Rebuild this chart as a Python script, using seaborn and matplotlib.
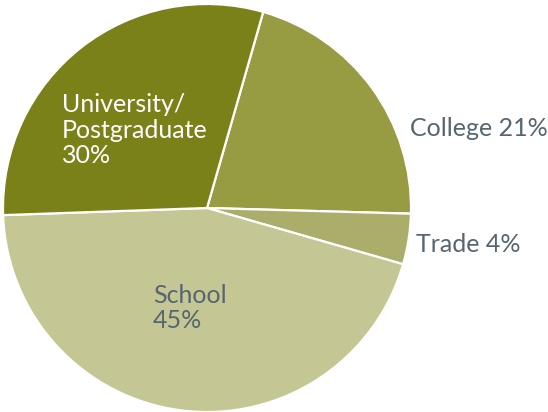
import matplotlib
matplotlib.use("Agg")
import matplotlib.pyplot as plt
import seaborn as sns

# Highest level of education attained
categories = ["College", "Trade", "School", "University/\nPostgraduate"]
shares = [21, 4, 45, 30]
colors = ["#979b42", "#abae6b", "#c4c693", "#7b8119"]

sns.set_theme(style="white")
plt.rcParams["font.family"] = ["Lato", "DejaVu Sans"]

W, H = 548, 412
fig = plt.figure(figsize=(W / 100, H / 100), dpi=100)
cx, cy, r = 207, 208, 204
ax = fig.add_axes([(cx - r) / W, (H - cy - r) / H, 2 * r / W, 2 * r / H])
ax.set_aspect("equal")
ax.axis("off")

ax.pie(shares, colors=colors, startangle=74, counterclock=False,
       radius=1, center=(0, 0), frame=False,
       wedgeprops=dict(edgecolor="white", linewidth=1.6))
ax.set_xlim(-1, 1)
ax.set_ylim(-1, 1)


def px(x, y):
    return (x - cx) / r, (cy - y) / r


text_color = "#566670"
fs = 18

ax.text(*px(410, 136), f"{categories[0]} {shares[0]}%", color=text_color,
        fontsize=fs, ha="left", va="baseline")
ax.text(*px(416, 252), f"{categories[1]} {shares[1]}%", color=text_color,
        fontsize=fs, ha="left", va="baseline")
ax.text(*px(62, 163), f"{categories[3]}\n{shares[3]}%", color="white",
        fontsize=fs, ha="left", va="baseline", linespacing=1.12)
ax.text(*px(153, 328), f"{categories[2]}\n{shares[2]}%", color=text_color,
        fontsize=fs, ha="left", va="baseline", linespacing=1.12)

fig.savefig("out.png", dpi=100, facecolor="white")
